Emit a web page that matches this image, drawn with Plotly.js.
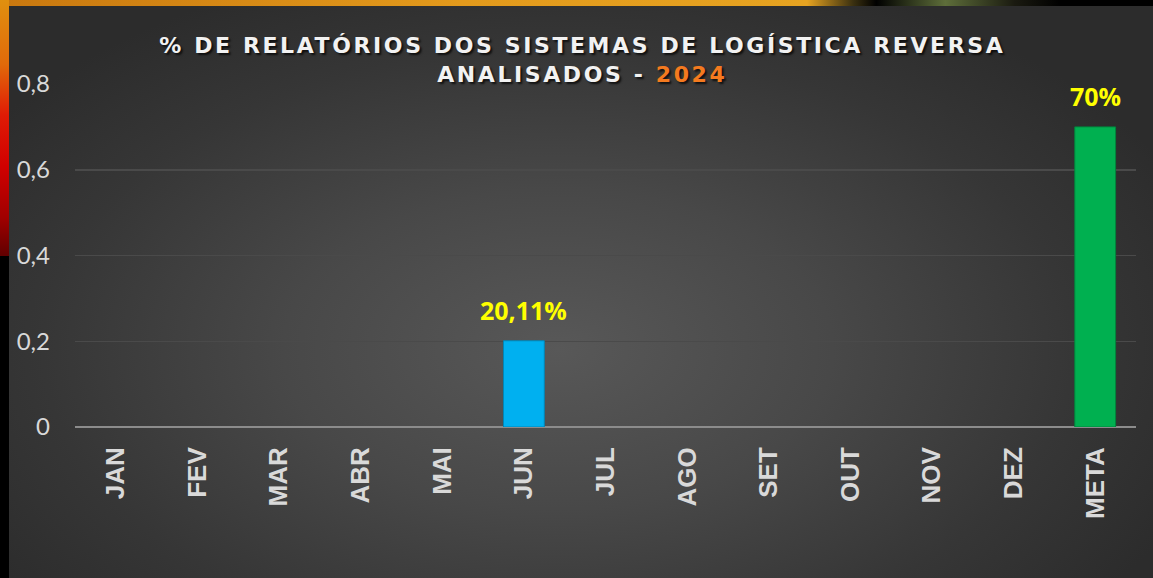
<!DOCTYPE html>
<html>
<head>
<meta charset="utf-8">
<script src="https://cdn.plot.ly/plotly-3.0.1.min.js"></script>
<style>
  html, body { margin: 0; padding: 0; background: #000; }
  #wrap { position: relative; width: 1153px; height: 578px; overflow: hidden; background: #000; }
  #topstrip { position: absolute; left: 0; top: 0; width: 1153px; height: 6px;
    background: linear-gradient(to right, #c9780f 0%, #e39a1c 40%, #e6a321 70%, #3a3010 74%, #000 76%, #5e6e3a 82%, #1a1a10 88%, #000 92%); }
  #leftstrip { position: absolute; left: 0; top: 0; width: 9px; height: 256px;
    background: linear-gradient(to bottom, #e0900f 0%, #e06a0a 25%, #e01b05 45%, #d10000 65%, #a00000 85%, #600000 100%); }
  #panel { position: absolute; left: 9px; top: 6px; width: 1144px; height: 572px;
    background: radial-gradient(ellipse 60% 70% at 48% 60%, #585858 0%, #484848 40%, #363636 75%, #2c2c2c 100%); }
  #chart { position: absolute; left: 0; top: 0; width: 1153px; height: 578px; }
  .gtitle { letter-spacing: 2.6px; }
</style>
</head>
<body>
<div id="wrap">
  <div id="topstrip"></div>
  <div id="leftstrip"></div>
  <div id="panel"></div>
  <div id="chart"></div>
</div>
<script>
const categories = ['JAN', 'FEV', 'MAR', 'ABR', 'MAI', 'JUN', 'JUL', 'AGO', 'SET', 'OUT', 'NOV', 'DEZ', 'META'];
const values = [null, null, null, null, null, 0.2011, null, null, null, null, null, null, 0.70];
const yTicks = [0, 0.2, 0.4, 0.6, 0.8];
const titleLine1 = '% DE RELATÓRIOS DOS SISTEMAS DE LOGÍSTICA REVERSA';
const titleLine2 = 'ANALISADOS - ';
const titleYear = '2024';

function fmtPct(v) {
  const p = Math.round(v * 10000) / 100;
  return (Number.isInteger(p) ? String(p) : p.toFixed(2).replace('.', ',')) + '%';
}
const colors = categories.map(c => c === 'META' ? '#00B050' : '#00B0F0');
const lineColors = categories.map(c => c === 'META' ? '#00843c' : '#0086b8');

const trace = {
  type: 'bar',
  x: categories,
  y: values,
  width: 0.5,
  marker: { color: colors, line: { color: lineColors, width: 1 } },
  hoverinfo: 'none'
};

const annotations = categories
  .map((c, i) => ({ c, v: values[i] }))
  .filter(d => d.v !== null)
  .map(d => ({
    x: d.c, y: d.v, xref: 'x', yref: 'y',
    text: fmtPct(d.v), showarrow: false,
    yanchor: 'bottom', yshift: 12,
    font: { family: 'Open Sans, sans-serif', size: 25, color: '#FFFF00', weight: 700 }
  }));

const layout = {
  width: 1153, height: 578,
  paper_bgcolor: 'rgba(0,0,0,0)',
  plot_bgcolor: 'rgba(0,0,0,0)',
  separators: ',.',
  margin: { l: 75, r: 17, t: 84, b: 151, pad: 0 },
  showlegend: false,
  annotations: annotations,
  title: {
    text: titleLine1 + '<br>' + titleLine2 + '<span style="color:#F47A1F">' + titleYear + '</span>',
    x: 0.505, xanchor: 'center',
    yref: 'container', y: 1 - 53 / 578, yanchor: 'top',
    font: { family: 'DejaVu Sans, sans-serif', size: 22, color: '#F2F2F2', weight: 700, shadow: '2px 2px 2px rgba(0,0,0,0.7)' }
  },
  xaxis: {
    type: 'category',
    tickangle: -90,
    tickfont: { family: 'Liberation Sans Narrow, Liberation Sans, sans-serif', size: 26, color: '#D9D9D9', weight: 700 },
    ticks: '', showgrid: false, showline: false, zeroline: false,
    ticklabelstandoff: 14
  },
  yaxis: {
    range: [0, 0.8],
    tickvals: yTicks,
    ticktext: yTicks.map(v => v === 0 ? '0' : String(v).replace('.', ',')),
    tickfont: { family: 'Lato, sans-serif', size: 24, color: '#D9D9D9' },
    gridcolor: '#4a4a4a', gridwidth: 1.5,
    zeroline: true, zerolinecolor: '#8c8c8c', zerolinewidth: 2,
    showline: false, ticks: '',
    ticklabelstandoff: 24
  },
  bargap: 0.5
};

Plotly.newPlot('chart', [trace], layout, { displayModeBar: false, staticPlot: true });
</script>
</body>
</html>
